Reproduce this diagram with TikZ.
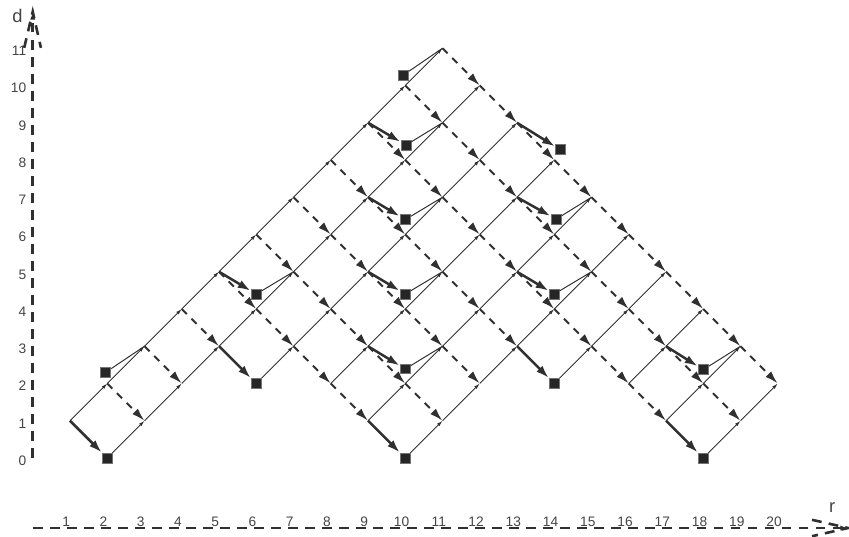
\documentclass[tikz,border=0pt]{standalone}
\usepackage{fontspec}
\setmainfont{Liberation Sans}
\usetikzlibrary{arrows.meta, positioning, calc}
\definecolor{ink}{HTML}{303030}
\definecolor{labelgray}{HTML}{454545}

\begin{document}
\begin{tikzpicture}[
    up/.style={draw=ink, line width=0.65pt, -{Latex[length=4.5pt, width=2.6pt]}},
    fall/.style={draw=ink, line width=1.5pt, dash pattern=on 5.5pt off 5pt, -{Latex[length=10pt, width=6pt]}},
    drop/.style={draw=ink, line width=1.9pt, -{Latex[length=10pt, width=6.5pt]}},
    link/.style={draw=ink, line width=0.75pt},
    box/.style={rectangle, draw=black!55, fill=black!85, line width=0.7pt, minimum size=7.6pt, inner sep=0pt},
    axisline/.style={draw=ink, line width=2pt, dash pattern=on 7.5pt off 5.5pt},
    num/.style={text=labelgray, font=\fontsize{10.5}{12}\selectfont, inner sep=0pt},
    axisname/.style={text=labelgray, font=\fontsize{14}{16}\selectfont, inner sep=0pt}
]
    \useasboundingbox (-0.879,-2.121) rectangle (21.913,12.295);

    % Axes
    \coordinate (d0) at (0,0);
    \coordinate (dtip) at (0,11.98);
    \coordinate (dwingL) at (-0.23,11.01);
    \coordinate (dwingR) at (0.22,11.01);
    \draw[axisline, -{Latex[length=6pt, width=4pt]}] (d0) -- (dtip);
    \draw[axisline] (dwingL) -- (dtip) -- (dwingR);

    \coordinate (r0) at (0,-1.88);
    \coordinate (rtip) at (21.89,-1.88);
    \coordinate (rwingU) at (20.92,-1.66);
    \coordinate (rwingD) at (20.92,-2.10);
    \draw[axisline, -{Latex[length=6pt, width=4pt]}] (r0) -- (rtip);
    \draw[axisline] (rwingU) -- (rtip) -- (rwingD);

    \node[axisname] (dname) at (-0.41,11.88) {d};
    \node[axisname] (rname) at (21.46,-1.34) {r};

    % Axis numbers
    \foreach \n in {1,...,20}
        \node[num, anchor=base] (rnum\n) at (\n-0.1,-1.83) {\n};
    \foreach \n in {0,...,11}
        \node[num, anchor=east] (dnum\n) at (-0.17,\n-0.07) {\n};

    % Lattice points, row by row (v = rising line, first u of the row)
    \foreach \v/\umin in {0/1,1/1,2/4,3/5,4/5,5/5,6/8,7/9,8/9,9/9}{
        \foreach \u in {\umin,...,11}{
            \pgfmathtruncatemacro{\rr}{\u+\v}
            \pgfmathtruncatemacro{\dd}{\u-\v}
            \coordinate (p\rr-\dd) at (\rr,\dd);
        }
    }

    % Rising edges
    \foreach \v/\umin in {0/1,1/1,2/4,3/5,4/5,5/5,6/8,7/9,8/9,9/9}{
        \foreach \u in {\umin,...,10}{
            \pgfmathtruncatemacro{\rr}{\u+\v}
            \pgfmathtruncatemacro{\dd}{\u-\v}
            \pgfmathtruncatemacro{\rn}{\rr+1}
            \pgfmathtruncatemacro{\dn}{\dd+1}
            \draw[up] (p\rr-\dd) -- (p\rn-\dn);
        }
    }

    % Falling edges (dashed)
    \foreach \u/\vlast in {2/1,3/1,4/1,5/4,6/5,7/5,8/5,9/8,10/9,11/9}{
        \foreach \v in {1,...,\vlast}{
            \pgfmathtruncatemacro{\rr}{\u+\v-1}
            \pgfmathtruncatemacro{\dd}{\u-\v+1}
            \pgfmathtruncatemacro{\rn}{\rr+1}
            \pgfmathtruncatemacro{\dn}{\dd-1}
            \draw[fall] (p\rr-\dd) -- (p\rn-\dn);
        }
    }

    % Boxes
    \node[box] (q2-0) at (2,0) {};
    \node[box] (q2-2) at (1.96,2.30) {};
    \node[box] (q6-2) at (6,2) {};
    \node[box] (q6-4) at (6,4.40) {};
    \node[box] (q10-0) at (10,0) {};
    \node[box] (q10-2) at (10,2.39) {};
    \node[box] (q10-4) at (10,4.40) {};
    \node[box] (q10-6) at (10,6.40) {};
    \node[box] (q10-8) at (10.02,8.40) {};
    \node[box] (q10-10) at (9.95,10.28) {};
    \node[box] (q14-2) at (14,2) {};
    \node[box] (q14-4) at (14,4.40) {};
    \node[box] (q14-6) at (14.05,6.41) {};
    \node[box] (q14-8) at (14.17,8.27) {};
    \node[box] (q18-0) at (18,0) {};
    \node[box] (q18-2) at (18,2.37) {};

    % Drops into boxes
    \draw[drop] (p1-1) -- (q2-0);
    \draw[drop] (p5-3) -- (q6-2);
    \draw[drop] (p5-5) -- (q6-4);
    \draw[drop] (p9-1) -- (q10-0);
    \draw[drop] (p9-3) -- (q10-2);
    \draw[drop] (p9-5) -- (q10-4);
    \draw[drop] (p9-7) -- (q10-6);
    \draw[drop] (p9-9) -- (q10-8);
    \draw[drop] (p13-3) -- (q14-2);
    \draw[drop] (p13-5) -- (q14-4);
    \draw[drop] (p13-7) -- (q14-6);
    \draw[drop] (p13-9) -- (q14-8);
    \draw[drop] (p17-1) -- (q18-0);
    \draw[drop] (p17-3) -- (q18-2);

    % Links out of the boxes
    \draw[link] (q2-2) -- (p3-3);
    \draw[link] (q6-4) -- (p7-5);
    \draw[link] (q10-2) -- (p11-3);
    \draw[link] (q10-4) -- (p11-5);
    \draw[link] (q10-6) -- (p11-7);
    \draw[link] (q10-8) -- (p11-9);
    \draw[link] (q10-10) -- (p11-11);
    \draw[link] (q14-4) -- (p15-5);
    \draw[link] (q14-6) -- (p15-7);
    \draw[link] (q18-2) -- (p19-3);
\end{tikzpicture}
\end{document}
